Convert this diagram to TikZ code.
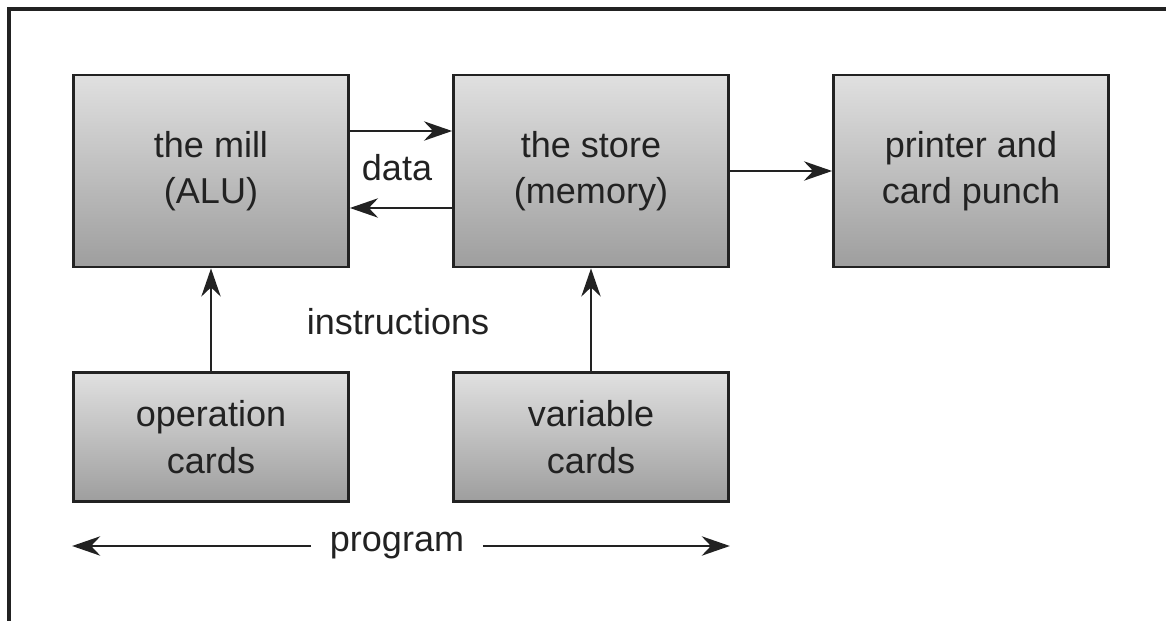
\documentclass[tikz,border=0pt]{standalone}
\usepackage{fontspec}
\setmainfont{Liberation Sans}
\usetikzlibrary{arrows.meta}
\definecolor{boxtop}{HTML}{E0E0E0}
\definecolor{boxbottom}{HTML}{9E9E9E}
\definecolor{ink}{HTML}{222222}

\begin{document}
\begin{tikzpicture}[x=0.02cm, y=-0.02cm,
  unit/.style={draw=ink, line width=1.6pt, top color=boxtop, bottom color=boxbottom,
    minimum width=5.5cm, minimum height=3.84cm, align=center, text=ink,
    font=\fontsize{20.5}{26.5}\selectfont},
  card/.style={unit, minimum height=2.58cm},
  flow/.style={draw=ink, line width=1.4pt, -{Stealth[length=16pt,width=11pt]}},
  tag/.style={text=ink, font=\fontsize{20.5}{26.5}\selectfont}]
\useasboundingbox (0,0) rectangle (1166,621);
\draw[ink, line width=2pt] (9,621) -- (9,9) -- (1166,9);

% engine parts
\node[unit] (mill) at (211,171) {the mill\\(ALU)};
\node[unit] (store) at (591,171) {the store\\(memory)};
\node[unit] (out) at (971,171) {printer and\\card punch};
\node[card] (ops) at (211,437) {operation\\cards};
\node[card] (vars) at (591,437) {variable\\cards};

% labels
\node[tag] (data) at (397,168) {data};
\node[tag] (instr) at (398,322) {instructions};
\node[tag, inner xsep=0.37cm] (prog) at (397,546) {program};

\draw[flow] ([yshift=0.8cm]mill.east) -- ([yshift=0.8cm]store.west);
\draw[flow] ([yshift=-0.74cm]store.west) -- ([yshift=-0.74cm]mill.east);
\draw[flow] (store) -- (out);
\draw[flow] (ops) -- (mill);
\draw[flow] (vars) -- (store);
\draw[flow] (prog.west) -- (prog.west -| ops.west);
\draw[flow] (prog.east) -- (prog.east -| vars.east);
\end{tikzpicture}
\end{document}
